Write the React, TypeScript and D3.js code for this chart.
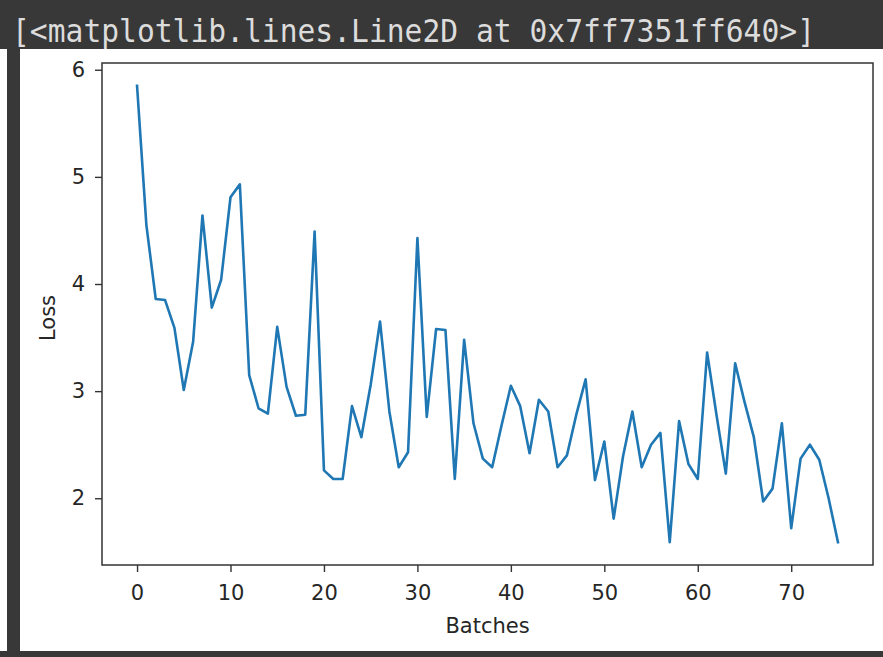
import { useEffect, useRef } from 'react';
import * as d3 from 'd3';

// Training loss per batch
const batches: number[] = d3.range(0, 76);
const loss: number[] = [
  5.85, 4.55, 3.86, 3.85, 3.59, 3.01, 3.46, 4.64, 3.78, 4.04,
  4.81, 4.93, 3.15, 2.84, 2.79, 3.6, 3.04, 2.77, 2.78, 4.49,
  2.26, 2.18, 2.18, 2.86, 2.57, 3.06, 3.65, 2.81, 2.29, 2.43,
  4.43, 2.76, 3.58, 3.57, 2.18, 3.48, 2.7, 2.37, 2.29, 2.68,
  3.05, 2.86, 2.42, 2.92, 2.81, 2.29, 2.4, 2.78, 3.11, 2.17,
  2.53, 1.81, 2.39, 2.81, 2.29, 2.5, 2.61, 1.59, 2.72, 2.32,
  2.18, 3.36, 2.78, 2.23, 3.26, 2.9, 2.57, 1.97, 2.09, 2.7,
  1.72, 2.37, 2.5, 2.36, 2.0, 1.59,
];
const xTicks: number[] = [0, 10, 20, 30, 40, 50, 60, 70];
const yTicks: number[] = [2, 3, 4, 5, 6];
const reprText = '[<matplotlib.lines.Line2D at 0x7ff7351ff640>]';

export default function App() {
  const svgRef = useRef<SVGSVGElement | null>(null);

  useEffect(() => {
    if (!svgRef.current) return;
    const W = 883;
    const H = 657;
    const left = 102, right = 873, top = 63, bottom = 565;
    const font = "'DejaVu Sans', sans-serif";

    const svg = d3.select(svgRef.current);
    svg.selectAll('*').remove();
    svg.attr('width', W).attr('height', H);

    // notebook frame
    svg.append('rect').attr('width', W).attr('height', H).attr('fill', '#ffffff');
    svg.append('rect').attr('x', 0).attr('y', 0).attr('width', W).attr('height', 49).attr('fill', '#383838');
    svg.append('rect').attr('x', 7).attr('y', 0).attr('width', 13).attr('height', H).attr('fill', '#383838');
    svg.append('rect').attr('x', 0).attr('y', 651).attr('width', W).attr('height', 6).attr('fill', '#383838');

    svg.append('text')
      .attr('x', 12)
      .attr('y', 42)
      .attr('fill', '#dcdcdc')
      .attr('font-family', "'DejaVu Sans Mono', monospace")
      .attr('font-size', '32px')
      .attr('textLength', 803)
      .attr('lengthAdjust', 'spacingAndGlyphs')
      .text(reprText);

    // Scales with matplotlib-style 5% margins
    const xPad = (d3.max(batches)! - d3.min(batches)!) * 0.05;
    const x = d3.scaleLinear()
      .domain([d3.min(batches)! - xPad, d3.max(batches)! + xPad])
      .range([left, right]);
    const yMin = d3.min(loss)!, yMax = d3.max(loss)!;
    const yPad = (yMax - yMin) * 0.05;
    const y = d3.scaleLinear()
      .domain([yMin - yPad, yMax + yPad])
      .range([bottom, top]);

    // Line
    const line = d3.line<number>()
      .x((_, i) => x(batches[i]))
      .y(d => y(d));

    svg.append('path')
      .datum(loss)
      .attr('d', line)
      .attr('fill', 'none')
      .attr('stroke', '#1f77b4')
      .attr('stroke-width', 2.6)
      .attr('stroke-linejoin', 'round')
      .attr('stroke-linecap', 'square');

    // Spines
    svg.append('rect')
      .attr('x', left)
      .attr('y', top)
      .attr('width', right - left)
      .attr('height', bottom - top)
      .attr('fill', 'none')
      .attr('stroke', '#333333')
      .attr('stroke-width', 1.5);

    // X axis
    svg.append('g')
      .attr('transform', `translate(0, ${bottom})`)
      .call(d3.axisBottom(x).tickValues(xTicks).tickSize(7).tickPadding(13).tickFormat(d3.format('d')))
      .call(g => g.select('.domain').remove())
      .call(g => g.selectAll('line').attr('stroke', '#333333').attr('stroke-width', 1.4))
      .selectAll('text')
      .attr('fill', '#262626')
      .attr('font-size', '21px')
      .attr('font-family', font);

    // Y axis
    svg.append('g')
      .attr('transform', `translate(${left}, 0)`)
      .call(d3.axisLeft(y).tickValues(yTicks).tickSize(7).tickPadding(10).tickFormat(d3.format('d')))
      .call(g => g.select('.domain').remove())
      .call(g => g.selectAll('line').attr('stroke', '#333333').attr('stroke-width', 1.4))
      .selectAll('text')
      .attr('fill', '#262626')
      .attr('font-size', '21px')
      .attr('font-family', font);

    // Axis labels
    svg.append('text')
      .attr('x', (left + right) / 2)
      .attr('y', 633)
      .attr('text-anchor', 'middle')
      .attr('fill', '#262626')
      .attr('font-size', '21px')
      .attr('font-family', font)
      .text('Batches');

    svg.append('text')
      .attr('transform', 'rotate(-90)')
      .attr('x', -318)
      .attr('y', 55)
      .attr('text-anchor', 'middle')
      .attr('fill', '#262626')
      .attr('font-size', '21px')
      .attr('font-family', font)
      .text('Loss');
  }, []);

  return (
    <div style={{ position: 'fixed', left: 0, top: 0 }}>
      <svg ref={svgRef} style={{ display: 'block' }}></svg>
    </div>
  );
}
